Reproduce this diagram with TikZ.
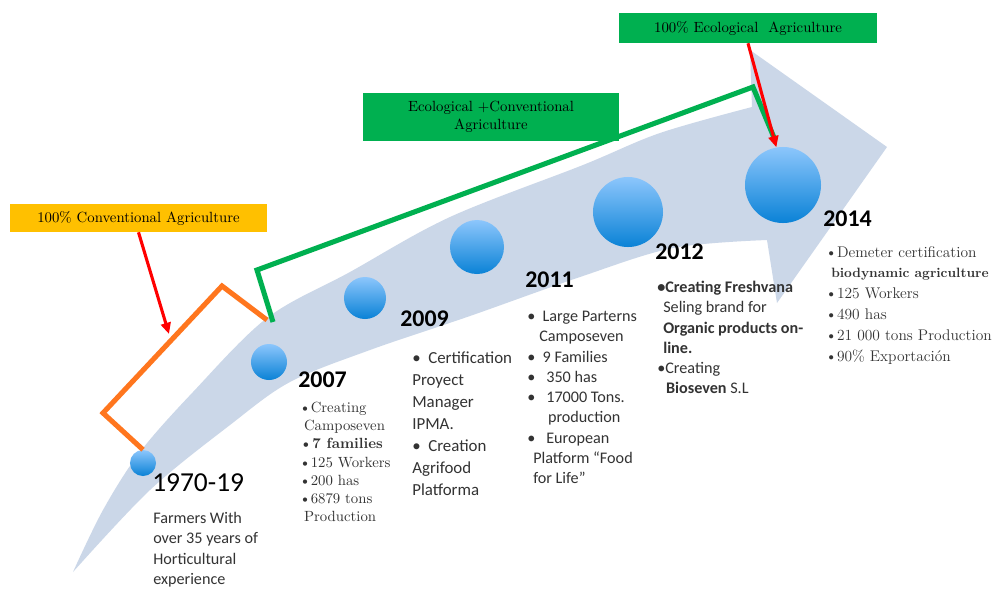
\documentclass[tikz,border=0pt]{standalone}
\usepackage{fontspec}
\newfontfamily\calib{Carlito}
\usepackage{xcolor}
\usetikzlibrary{arrows.meta}

\definecolor{bandcol}{RGB}{203,215,232}
\definecolor{circtop}{RGB}{140,198,252}
\definecolor{circbot}{RGB}{10,130,214}
\definecolor{convorange}{RGB}{255,192,0}
\definecolor{lineorange}{RGB}{255,118,30}
\definecolor{ecogreen}{RGB}{0,176,80}

\begin{document}
\begin{tikzpicture}[x=0.025cm,y=-0.025cm,
	year/.style={font=\calib\bfseries\fontsize{17}{20}\selectfont,anchor=north west,inner sep=0pt},
	sanstext/.style={font=\calib\fontsize{11.5}{14.4}\selectfont,text=black!80,anchor=north west,align=left,inner sep=0pt},
	seriftext/.style={font=\fontsize{10.5}{12.9}\selectfont,text=black!80,anchor=north west,align=left,inner sep=0pt},
	dot/.style={circle,minimum size=#1,inner sep=0pt,top color=circtop,bottom color=circbot},
	labelbox/.style={font=\fontsize{10.5}{12.5}\selectfont,align=center,inner sep=0pt},
	redarrow/.style={draw=red,line width=2.2pt,-{Triangle[length=8pt,width=7pt]}}]
			\path[use as bounding box,fill=white] (0,0) rectangle (996,588);
			% the bent arrow
			\fill[bandcol] plot[smooth,tension=0.55] coordinates {(73,572) (103,510) (140,452) (193,392) (267,318) (350,272) (450,217) (583,165) (660,133) (752,107)}
				-- (750,50) -- (887,147) -- (777,303) -- (767,240)
				-- plot[smooth,tension=0.55] coordinates {(767,240) (673,248) (580,277) (470,316) (370,350) (290,382) (230,425) (150,490) (73,572)} -- cycle;
			% dots
			\node[dot=0.65cm] (c1) at (143,463) {};
			\node[dot=0.9cm] (c2) at (269,362) {};
			\node[dot=1.05cm] (c3) at (365,298) {};
			\node[dot=1.35cm] (c4) at (477,247) {};
			\node[dot=1.75cm] (c5) at (628,212) {};
			\node[dot=1.9cm] (c6) at (783,185) {};
			% phases
			\node[labelbox,fill=convorange,minimum width=6.425cm,minimum height=0.7cm] (convbox) at (138.5,218) {100\% Conventional Agriculture};
			\node[labelbox,fill=ecogreen,minimum width=6.4cm,minimum height=1.2cm] (mixbox) at (491,117) {Ecological +Conventional\\Agriculture};
			\node[labelbox,fill=ecogreen,minimum width=6.45cm,minimum height=0.75cm] (ecobox) at (748,28) {100\% Ecological\ \ Agriculture};
			\coordinate (o1) at (103,413);
			\coordinate (o2) at (222,286);
			\coordinate (o3) at (267,320);
			\coordinate (g1) at (273,322);
			\coordinate (g2) at (257,270);
			\coordinate (g3) at (753,87);
			\coordinate (g4) at (775,140);
			\coordinate (convtip) at (169,334);
			\draw[lineorange,line width=3.6pt] (c1.north) -- (o1) -- (o2) -- (o3);
			\draw[ecogreen,line width=3.6pt] (g1) -- (g2) -- (g3) -- (g4);
			\draw[redarrow] (convbox.south) -- (convtip);
			\draw[redarrow] (ecobox.south) -- (c6.100);
			% years
			\node[year,font=\calib\fontsize{19.5}{22}\selectfont] (y1970) at (152,473) {1970-19};
			\node[year] (y2007) at (298,372) {2007};
			\node[year] (y2009) at (400,311) {2009};
			\node[year] (y2011) at (525,272) {2011};
			\node[year] (y2012) at (655,244) {2012};
			\node[year] (y2014) at (823,211) {2014};
			% texts
			\node[sanstext] (t1970) at (153,512) {Farmers With\\over 35 years of\\Horticultural\\experience};
			\node[seriftext] (t2007) at (299,402) {\textbullet Creating\\\hspace*{0.12cm}Camposeven\\\textbf{\textbullet 7 families}\\\textbullet 125 Workers\\\textbullet 200 has\\\textbullet 6879 tons\\\hspace*{0.12cm}Production};
			\node[sanstext,font=\calib\fontsize{12}{15.6}\selectfont] (t2009) at (412,352) {\textbullet\ \ Certification\\Proyect\\Manager\\IPMA.\\\textbullet\ \ Creation\\Agrifood\\Platforma};
			\node[sanstext] (t2011) at (527,311) {\textbullet\ \ Large Parterns\\\hspace*{0.3cm}Camposeven\\\textbullet\ \ 9 Families\\\textbullet\ \ \ 350 has\\\textbullet\ \ \ 17000 Tons.\\\hspace*{0.52cm}production\\\textbullet\ \ \ European\\\hspace*{0.15cm}Platform “Food\\\hspace*{0.15cm}for Life”};
			\node[sanstext] (t2012) at (657,281) {\textbf{\textbullet Creating Freshvana}\\\hspace*{0.15cm}Seling brand for\\\hspace*{0.15cm}\textbf{Organic products on-}\\\hspace*{0.15cm}\textbf{line.}\\\textbullet Creating\\\hspace*{0.22cm}\textbf{Bioseven} S.L};
			\node[seriftext,font=\fontsize{11}{14.8}\selectfont] (t2014) at (825,246) {\textbullet Demeter certification\\\hspace*{0.15cm}{\fontsize{9.6}{14.8}\selectfont\textbf{biodynamic agriculture}}\\\textbullet 125 Workers\\\textbullet 490 has\\\textbullet 21 000 tons Production\\\textbullet 90\% Exportación};
		\end{tikzpicture}
\end{document}
